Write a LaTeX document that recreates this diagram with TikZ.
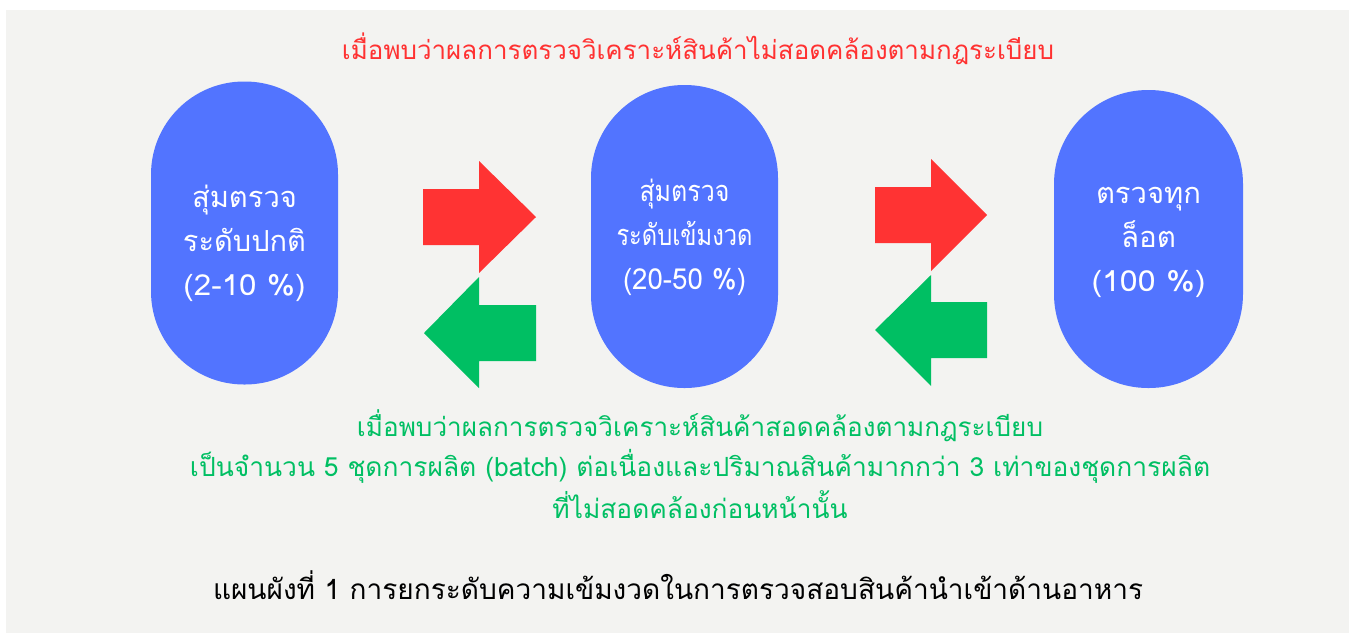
\documentclass[tikz,border=0pt]{standalone}
\usepackage{fontspec}
\usepackage{graphicx}
\newfontfamily\thai[Script=Thai]{Loma}
\definecolor{panelgray}{HTML}{F3F3F1}
\definecolor{pillblue}{HTML}{5274FF}
\definecolor{arrred}{HTML}{FF3333}
\definecolor{arrgreen}{HTML}{00BF63}
\definecolor{txtred}{HTML}{FF3131}
\definecolor{txtgreen}{HTML}{00BF63}
\tikzset{
  pill/.style={draw=none, fill=pillblue, rounded corners=93pt, minimum width=187pt, minimum height=303pt, inner sep=0pt},
  pilltext/.style={text=white, align=center, inner sep=0pt, font=\thai\fontsize{29}{44}\selectfont},
  redarrow/.style={fill=arrred},
  greenarrow/.style={fill=arrgreen},
  note/.style={inner sep=0pt, font=\thai\fontsize{26}{30}\selectfont}
}
\newcommand{\fitw}[2]{\resizebox{#1}{!}{#2}}
\newcommand{\sq}[2]{\resizebox{#1}{\height}{#2}}
\begin{document}
\begin{tikzpicture}[x=1pt,y=-1pt]
\useasboundingbox (0,0) rectangle (1352,633);
\fill[white] (0,0) rectangle (1352,633);
\fill[panelgray] (6,10) rectangle (1349,633);
% pills
\node[pill] (p1) at (244.5,233) {};
\node[pill] (p2) at (684.5,236.5) {};
\node[pill, minimum width=189pt, minimum height=298pt, rounded corners=94pt] (p3) at (1148.5,239) {};
\node[pilltext] (t1) at (244.5,243) {\sq{105pt}{สุ่มตรวจ}\\\sq{123pt}{ระดับปกติ}\\\sq{122pt}{(2-10 \%)}};
\node[pilltext] (t2) at (684.5,237) {\sq{90pt}{สุ่มตรวจ}\\\sq{136pt}{ระดับเข้มงวด}\\\sq{123pt}{(20-50 \%)}};
\node[pilltext] (t3) at (1148.5,242) {\sq{105pt}{ตรวจทุก}\\\sq{55pt}{ล็อต}\\\sq{114pt}{(100 \%)}};
% block arrows
\fill[redarrow] (423,189) -- (479,189) -- (479,161) -- (536,217) -- (479,273) -- (479,245) -- (423,245) -- cycle;
\fill[greenarrow] (536,305) -- (479,305) -- (479,277) -- (424,333) -- (479,388) -- (479,361) -- (536,361) -- cycle;
\fill[redarrow] (875,187) -- (931,187) -- (931,159) -- (987,215) -- (931,271) -- (931,243) -- (875,243) -- cycle;
\fill[greenarrow] (987,302) -- (931,302) -- (931,275) -- (875,330) -- (931,386) -- (931,358) -- (987,358) -- cycle;
% texts
\node[note, text=txtred] (top) at (698,49) {\fitw{712pt}{เมื่อพบว่าผลการตรวจวิเคราะห์สินค้าไม่สอดคล้องตามกฎระเบียบ}};
\node[note, text=txtgreen] (g1) at (700,426) {\fitw{686pt}{เมื่อพบว่าผลการตรวจวิเคราะห์สินค้าสอดคล้องตามกฎระเบียบ}};
\node[note, text=txtgreen] (g2) at (700,466) {\fitw{1020pt}{เป็นจำนวน 5 ชุดการผลิต (batch) ต่อเนื่องและปริมาณสินค้ามากกว่า 3 เท่าของชุดการผลิต}};
\node[note, text=txtgreen] (g3) at (700,505) {\fitw{295pt}{ที่ไม่สอดคล้องก่อนหน้านั้น}};
\node[note, text=black] (cap) at (678,585) {\fitw{930pt}{แผนผังที่ 1 การยกระดับความเข้มงวดในการตรวจสอบสินค้านำเข้าด้านอาหาร}};
\end{tikzpicture}
\end{document}
